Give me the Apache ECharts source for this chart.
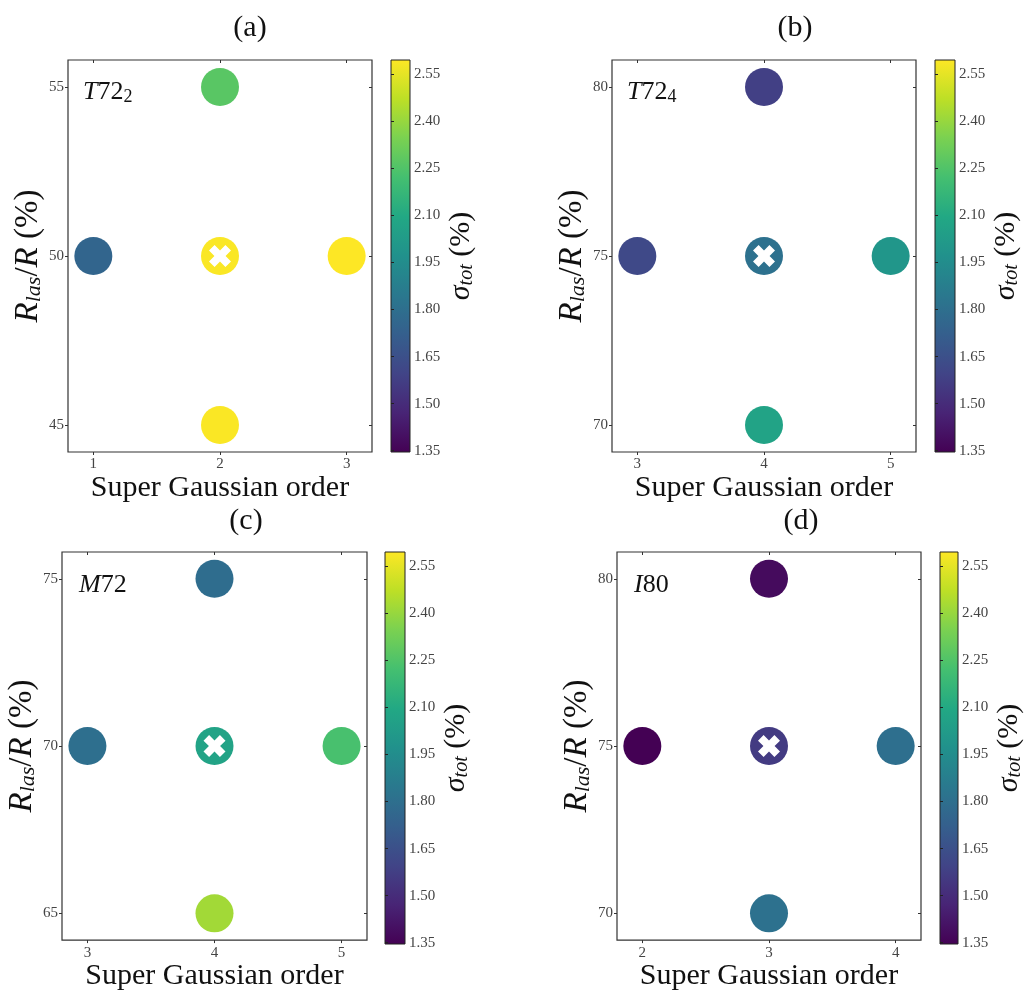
<!DOCTYPE html>
<html>
<head>
<meta charset="utf-8">
<script src="https://cdn.jsdelivr.net/npm/echarts@6/dist/echarts.min.js"></script>
<style>
html,body{margin:0;padding:0;background:#fff;}
#chart{width:1026px;height:992px;}
</style>
</head>
<body>
<div id="chart"></div>
<script>
// ---------------- data ----------------
const PANEL_TITLES = ['(a)', '(b)', '(c)', '(d)'];
const PANEL_LABELS = [['T', '72', '2'], ['T', '72', '4'], ['M', '72', ''], ['I', '80', '']];

const ORDER_A = [1, 2, 2, 2, 3];
const RLAS_A  = [50, 55, 50, 45, 50];
const SIGMA_A = [1.75, 2.27, 2.59, 2.59, 2.595];
const BEST_A  = [2, 50];

const ORDER_B = [3, 4, 4, 4, 5];
const RLAS_B  = [75, 80, 75, 70, 75];
const SIGMA_B = [1.62, 1.58, 1.81, 2.07, 1.995];
const BEST_B  = [4, 75];

const ORDER_C = [3, 4, 4, 4, 5];
const RLAS_C  = [70, 75, 70, 65, 70];
const SIGMA_C = [1.80, 1.79, 2.07, 2.42, 2.23];
const BEST_C  = [4, 70];

const ORDER_D = [2, 3, 3, 3, 4];
const RLAS_D  = [75, 80, 75, 70, 75];
const SIGMA_D = [1.346, 1.38, 1.56, 1.81, 1.80];
const BEST_D  = [3, 75];

const X_TICKS = [[1, 2, 3], [3, 4, 5], [3, 4, 5], [2, 3, 4]];
const Y_TICKS = [[45, 50, 55], [70, 75, 80], [65, 70, 75], [70, 75, 80]];
const X_RANGES = [[0.8, 3.2], [2.8, 5.2], [2.8, 5.2], [1.8, 4.2]];
const Y_RANGES = [[44.2, 55.8], [69.2, 80.8], [64.2, 75.8], [69.2, 80.8]];

const CBAR_MIN = 1.346;
const CBAR_MAX = 2.595;
const CBAR_TICKS = [1.35, 1.50, 1.65, 1.80, 1.95, 2.10, 2.25, 2.40, 2.55];

// ---------------- style / layout ----------------
const VIRIDIS = ['#440154','#482475','#414487','#355f8d','#2a788e','#21918c','#22a884','#44bf70','#7ad151','#bddf26','#fde725'];
const FONT = "'Liberation Serif', 'DejaVu Serif', serif";
const GRIDS = [
  {left: 68, top: 60, width: 304, height: 392},
  {left: 612, top: 60, width: 304, height: 392},
  {left: 62, top: 552, width: 305, height: 392},
  {left: 617, top: 552, width: 304, height: 392}
];
const CBARS = [
  {left: 391, top: 60, width: 19, height: 392},
  {left: 935, top: 60, width: 20, height: 392},
  {left: 385, top: 552, width: 20, height: 392},
  {left: 940, top: 552, width: 20, height: 392}
];
const TITLE_POS = [[250, 28], [795, 28], [246, 521], [801, 521]];
const LABEL_POS = [[83, 92], [627, 92], [79, 585], [634, 585]];

const ORDERS = [ORDER_A, ORDER_B, ORDER_C, ORDER_D];
const RLAS = [RLAS_A, RLAS_B, RLAS_C, RLAS_D];
const SIGMAS = [SIGMA_A, SIGMA_B, SIGMA_C, SIGMA_D];
const BESTS = [BEST_A, BEST_B, BEST_C, BEST_D];

const X_PATH = 'path://M50 74 L26.7 97.4 L2.6 73.3 L26 50 L2.6 26.7 L26.7 2.6 L50 26 L73.3 2.6 L97.4 26.7 L74 50 L97.4 73.3 L73.3 97.4 Z';

const tickLabelStyle = {fontFamily: FONT, fontSize: 15, color: '#444'};
const nameRich = {
  it: {fontFamily: FONT, fontSize: 33, fontStyle: 'italic', color: '#111', lineHeight: 34},
  sub: {fontFamily: FONT, fontSize: 22, fontStyle: 'italic', color: '#111', lineHeight: 20, verticalAlign: 'bottom'},
  rm: {fontFamily: FONT, fontSize: 33, color: '#111', lineHeight: 34}
};

function viridisGradient() {
  return new echarts.graphic.LinearGradient(0, 1, 0, 0,
    VIRIDIS.map((col, i) => ({offset: i / (VIRIDIS.length - 1), color: col})));
}

const grid = [], xAxis = [], yAxis = [], series = [], visualMap = [], graphic = [];

for (let p = 0; p < 4; p++) {
  const g = GRIDS[p];
  grid.push(Object.assign({show: true, borderColor: '#333', borderWidth: 1.2, backgroundColor: 'transparent', containLabel: false}, g));
  const gi = grid.length - 1;
  xAxis.push({
    gridIndex: gi, type: 'value', position: 'bottom', min: X_RANGES[p][0], max: X_RANGES[p][1],
    axisLine: {show: false}, splitLine: {show: false},
    axisTick: {show: true, inside: false, length: 3, customValues: X_TICKS[p], lineStyle: {color: '#333'}},
    axisLabel: Object.assign({show: true, margin: 5, customValues: X_TICKS[p], formatter: v => String(v)}, tickLabelStyle),
    name: 'Super Gaussian order', nameLocation: 'middle', nameGap: 17,
    nameTextStyle: {fontFamily: FONT, fontSize: 30, color: '#111'}
  });
  xAxis.push({
    gridIndex: gi, type: 'value', position: 'top', min: X_RANGES[p][0], max: X_RANGES[p][1],
    axisLine: {show: false}, splitLine: {show: false},
    axisTick: {show: true, inside: true, length: 3, customValues: X_TICKS[p], lineStyle: {color: '#333'}},
    axisLabel: {show: false}
  });
  yAxis.push({
    gridIndex: gi, type: 'value', position: 'left', min: Y_RANGES[p][0], max: Y_RANGES[p][1],
    axisLine: {show: false}, splitLine: {show: false},
    axisTick: {show: true, inside: false, length: 3, customValues: Y_TICKS[p], lineStyle: {color: '#333'}},
    axisLabel: Object.assign({show: true, margin: 4, customValues: Y_TICKS[p], formatter: v => String(v)}, tickLabelStyle),
    name: '{it|R}{sub|las}{rm|/}{it|R}{rm| (%)}', nameLocation: 'middle', nameGap: 20,
    nameTextStyle: {rich: nameRich}
  });
  yAxis.push({
    gridIndex: gi, type: 'value', position: 'right', min: Y_RANGES[p][0], max: Y_RANGES[p][1],
    axisLine: {show: false}, splitLine: {show: false},
    axisTick: {show: true, inside: true, length: 3, customValues: Y_TICKS[p], lineStyle: {color: '#333'}},
    axisLabel: {show: false}
  });
  const xb = xAxis.length - 2, yl = yAxis.length - 2;

  const pts = ORDERS[p].map((o, i) => [o, RLAS[p][i], SIGMAS[p][i]]);
  series.push({
    type: 'scatter', xAxisIndex: xb, yAxisIndex: yl, symbol: 'circle', symbolSize: 38,
    itemStyle: {opacity: 1}, data: pts, silent: true, z: 2
  });
  const scatterIdx = series.length - 1;
  series.push({
    type: 'scatter', xAxisIndex: xb, yAxisIndex: yl, symbol: X_PATH, symbolSize: 22,
    itemStyle: {color: '#ffffff', opacity: 1}, data: [BESTS[p]], silent: true, z: 3
  });

  const c = CBARS[p];
  grid.push(Object.assign({show: true, borderColor: '#222', borderWidth: 1, backgroundColor: viridisGradient()}, c));
  const ci = grid.length - 1;
  xAxis.push({gridIndex: ci, type: 'value', min: 0, max: 1, show: false});
  yAxis.push({
    gridIndex: ci, type: 'value', position: 'right', min: CBAR_MIN, max: CBAR_MAX,
    axisLine: {show: false}, splitLine: {show: false},
    axisTick: {show: true, inside: false, length: 3, customValues: CBAR_TICKS, lineStyle: {color: '#222'}},
    axisLabel: Object.assign({show: true, margin: 4, customValues: CBAR_TICKS, formatter: v => v.toFixed(2)}, tickLabelStyle),
    name: '{it|σ}{sub|tot}{rm| (%)}', nameLocation: 'middle', nameGap: 35,
    nameTextStyle: {rich: {
      it: {fontFamily: FONT, fontSize: 30, fontStyle: 'italic', color: '#111', lineHeight: 32},
      sub: {fontFamily: FONT, fontSize: 20, fontStyle: 'italic', color: '#111', lineHeight: 18, verticalAlign: 'bottom'},
      rm: {fontFamily: FONT, fontSize: 30, color: '#111', lineHeight: 32}
    }}
  });

  visualMap.push({
    type: 'continuous', show: false, seriesIndex: scatterIdx, dimension: 2,
    min: CBAR_MIN, max: CBAR_MAX, inRange: {color: VIRIDIS}
  });

  graphic.push({
    type: 'text', x: TITLE_POS[p][0], y: TITLE_POS[p][1], silent: true,
    style: {text: PANEL_TITLES[p], font: '30px ' + FONT, fill: '#111', align: 'center', verticalAlign: 'middle'}
  });
  const L = PANEL_LABELS[p];
  graphic.push({
    type: 'text', x: LABEL_POS[p][0], y: LABEL_POS[p][1], silent: true, z: 20,
    style: {
      text: '{it|' + L[0] + '}{rm|' + L[1] + '}' + (L[2] ? '{sub|' + L[2] + '}' : ''),
      align: 'left', verticalAlign: 'middle',
      rich: {
        it: {fontFamily: FONT, fontSize: 26, fontStyle: 'italic', fill: '#111', lineHeight: 28},
        rm: {fontFamily: FONT, fontSize: 26, fill: '#111', lineHeight: 28},
        sub: {fontFamily: FONT, fontSize: 18, fill: '#111', lineHeight: 16, verticalAlign: 'bottom'}
      }
    }
  });
}

const chart = echarts.init(document.getElementById('chart'), null, {renderer: 'canvas'});
chart.setOption({
  animation: false,
  backgroundColor: '#ffffff',
  grid, xAxis, yAxis, series, visualMap, graphic
});
</script>
</body>
</html>
